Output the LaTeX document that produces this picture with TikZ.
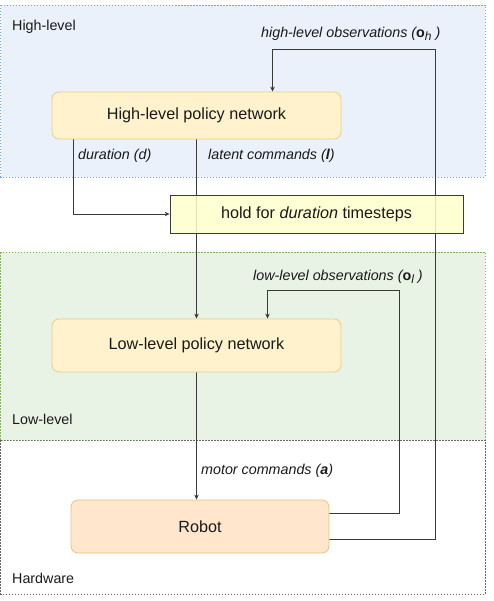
\documentclass[tikz,border=0pt]{standalone}
\usepackage{fontspec}
\setmainfont{Liberation Sans}
\usetikzlibrary{arrows.meta,positioning,backgrounds}
\definecolor{hlfill}{HTML}{EAF1FB}
\definecolor{hldraw}{HTML}{7EA6E0}
\definecolor{llfill}{HTML}{E8F2E5}
\definecolor{lldraw}{HTML}{82B366}
\definecolor{hwdraw}{HTML}{666666}
\definecolor{netfill}{HTML}{FFF2CC}
\definecolor{netdraw}{HTML}{E6CF8A}
\definecolor{robfill}{HTML}{FFE6CC}
\definecolor{robdraw}{HTML}{EBC27E}
\definecolor{holdfill}{HTML}{FFFFCC}
\definecolor{wire}{HTML}{3A3A3A}
\definecolor{ink}{HTML}{1A1A1A}
\newcommand{\obsvec}[1]{\textbf{\upshape o}\raisebox{-2.5pt}{\fontsize{12}{13}\selectfont #1}}

\begin{document}
\begin{tikzpicture}[x=1pt,y=-1pt,
  region/.style={dash pattern=on 1.5pt off 1.5pt,line width=0.6pt},
  net/.style={rounded corners=7pt,draw=netdraw,fill=netfill,line width=0.8pt,minimum width=289pt,text=ink,font=\fontsize{16.2}{18}\selectfont,inner sep=0pt},
  robbox/.style={rounded corners=7pt,draw=robdraw,fill=robfill,line width=0.8pt,minimum width=258pt,minimum height=53pt,text=ink,font=\fontsize{16.2}{18}\selectfont,inner sep=0pt},
  holdbox/.style={draw=wire,fill=holdfill,fill opacity=0.85,text opacity=1,line width=0.8pt,minimum width=293pt,minimum height=38pt,text=ink,font=\fontsize{16.2}{18}\selectfont,inner sep=0pt},
  lab/.style={anchor=west,inner sep=0pt,text=ink,font=\itshape\fontsize{14.3}{16}\selectfont},
  zone/.style={anchor=west,inner sep=0pt,text=ink,font=\fontsize{14.3}{16}\selectfont},
  wired/.style={draw=wire,line width=0.8pt},
  >={Stealth[length=5pt,width=4.5pt]}]

  \useasboundingbox (0,0) rectangle (493,601);

  \node[net,minimum height=47pt] (hi) at (196.5,115.5) {High-level policy network};
  \node[holdbox] (hold) at (316.5,214) {hold for \textit{duration} timesteps};
  \node[net,minimum height=53pt] (lo) at (196.5,345.5) {Low-level policy network};
  \node[robbox] (rob) at (200,526.5) {Robot};

  % zones and wires go below the boxes
  \begin{scope}[on background layer]
    \draw[region,draw=hldraw,fill=hlfill] (0.5,5) rectangle (485,177);
    \draw[region,draw=lldraw,fill=llfill] (0.5,252) rectangle (485,440);
    \draw[region,draw=hwdraw] (0.5,440) rectangle (485,594);

    \draw[->,wired] (hi.south) -- (lo.north);
    \draw[->,wired] ([xshift=-123.5pt]hi.south) |- (hold.west);
    \draw[->,wired] (lo.south) -- (lo.south |- rob.north);
    \draw[->,wired] ([yshift=-13pt]rob.east) -| (435,49) -| ([xshift=76pt]hi.north);
    \draw[->,wired] ([yshift=13pt]rob.east) -| (399,290) -| ([xshift=71pt]lo.north);
  \end{scope}

  \node[zone] (hiname) at (12,27) {High-level};
  \node[zone] (loname) at (12,419) {Low-level};
  \node[zone] (hwname) at (12,578) {Hardware};

  \node[lab] (hiobs) at (261,34) {high-level observations (\obsvec{\textit{h}} )};
  \node[lab] (dur) at (78,156) {duration (d)};
  \node[lab] (lat) at (208,156) {latent commands (\textbf{l})};
  \node[lab] (loobs) at (253,277) {low-level observations (\obsvec{\textit{l}} )};
  \node[lab] (mot) at (201,471) {motor commands (\textbf{a})};

\end{tikzpicture}
\end{document}
